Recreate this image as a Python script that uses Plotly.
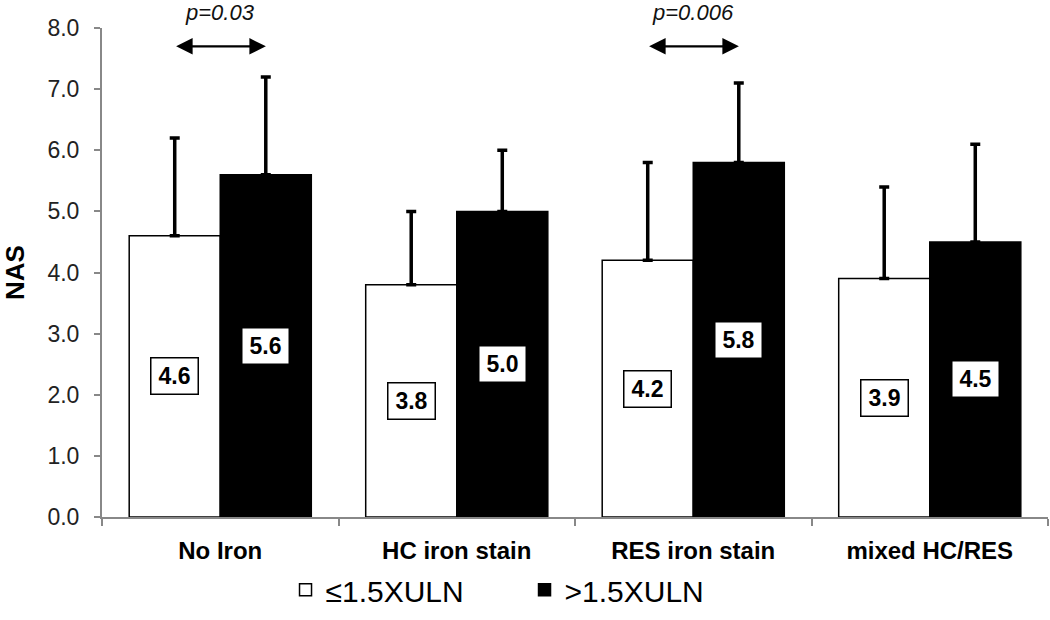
import plotly.graph_objects as go

categories = ["No Iron", "HC iron stain", "RES iron stain", "mixed HC/RES"]
low_vals = [4.6, 3.8, 4.2, 3.9]
low_err = [1.6, 1.2, 1.6, 1.5]
high_vals = [5.6, 5.0, 5.8, 4.5]
high_err = [1.6, 1.0, 1.3, 1.6]
series_names = ["≤1.5XULN", ">1.5XULN"]
pvalues = [(0, "p=0.03"), (2, "p=0.006")]
y_ticks = [0, 1, 2, 3, 4, 5, 6, 7, 8]

FONT = "Arial, Liberation Sans, sans-serif"

fig = go.Figure()
fig.add_trace(go.Bar(
    x=categories, y=low_vals, name=series_names[0],
    marker=dict(color="white", line=dict(color="black", width=1.5)),
    error_y=dict(type="data", array=low_err, symmetric=False, arrayminus=[0]*4,
                 color="black", thickness=3.5, width=5),
))
fig.add_trace(go.Bar(
    x=categories, y=high_vals, name=series_names[1],
    marker=dict(color="black", line=dict(color="black", width=1.5)),
    error_y=dict(type="data", array=high_err, symmetric=False, arrayminus=[0]*4,
                 color="black", thickness=3.5, width=5),
))

off = 0.193
annotations = []
for i, (lv, hv) in enumerate(zip(low_vals, high_vals)):
    for xo, v in ((-off, lv), (off, hv)):
        annotations.append(dict(
            x=i + xo, y=v / 2, xref="x", yref="y", text=f"<b>{v:.1f}</b>",
            showarrow=False, font=dict(family=FONT, size=23, color="black"),
            bgcolor="white", bordercolor="black", borderwidth=1.5, borderpad=4,
            width=38, height=27,
        ))
for i, ptxt in pvalues:
    annotations.append(dict(
        x=i + off, y=7.7, ax=i - off, ay=7.7, xref="x", yref="y",
        axref="x", ayref="y", text="", showarrow=True,
        arrowhead=2, arrowside="end+start", arrowsize=1.5, arrowwidth=2.2,
        arrowcolor="black",
    ))
    annotations.append(dict(
        x=i, y=1.0307, xref="x", yref="paper", yanchor="middle", xanchor="center",
        text=f"<i>{ptxt}</i>",
        showarrow=False, font=dict(family=FONT, size=22, color="#111"),
    ))

fig.update_layout(
    width=1050, height=620,
    margin=dict(l=102, r=2, t=28, b=103),
    paper_bgcolor="white", plot_bgcolor="white",
    barmode="group", bargap=0.23, bargroupgap=0,
    font=dict(family=FONT, color="black"),
    showlegend=True,
    legend=dict(orientation="h", x=0.194, xanchor="left", y=-0.149, yanchor="middle",
                font=dict(family=FONT, size=30, color="black"),
                itemwidth=30, entrywidth=194, entrywidthmode="pixels"),
    annotations=annotations,
)
fig.update_xaxes(
    type="category", showline=True, linecolor="#888", linewidth=2,
    ticks="outside", tickson="boundaries", ticklen=7, tickcolor="#888", tickwidth=2,
    tickfont=dict(family=FONT, size=24, color="black", weight="bold"),
    ticklabelstandoff=11,
    showgrid=False, zeroline=False,
)
fig.update_yaxes(
    range=[0, 8], tickvals=y_ticks, tickformat=".1f",
    showline=True, linecolor="#888", linewidth=2,
    ticks="outside", ticklen=6, tickcolor="#888", tickwidth=2,
    tickfont=dict(family=FONT, size=23, color="#222"),
    ticklabelstandoff=10,
    showgrid=False, zeroline=False,
    title=dict(text="<b>NAS</b>", font=dict(family=FONT, size=26, color="black"), standoff=22),
)

fig.write_html("out.html", config={"displayModeBar": False},
               post_script="document.body.style.margin='0';document.body.style.overflow='hidden';")
